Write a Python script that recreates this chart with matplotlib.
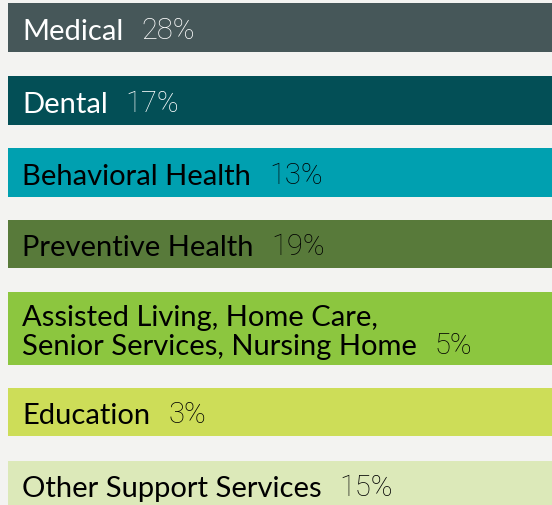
import matplotlib.pyplot as plt

categories = ["Medical", "Dental", "Behavioral Health", "Preventive Health",
              "Assisted Living, Home Care,\nSenior Services, Nursing Home",
              "Education", "Other Support Services"]
values = [28, 17, 13, 19, 5, 3, 15]

colors = ["#465759", "#034f56", "#00a0b0", "#587a3a", "#8cc63f", "#cddd58", "#dce9b9"]
text_colors = ["white", "white", "black", "black", "black", "black", "black"]

# layout in pixel units (top edge, height)
tops = [4, 77, 149, 221, 293, 389, 462]
heights = [49, 49, 49, 48, 73, 48, 49]

fig = plt.figure(figsize=(5.52, 5.06), dpi=100)
fig.patch.set_facecolor("#f3f3f1")
ax = fig.add_axes([0, 0, 1, 1])
ax.set_facecolor("#f3f3f1")
ax.set_xlim(0, 552)
ax.set_ylim(506, 0)
ax.axis("off")

for cat, val, c, tc, top, h in zip(categories, values, colors, text_colors, tops, heights):
    ax.barh(top + h / 2, 552 - 8, height=h, left=8, color=c)
    label = ax.text(22, top + h / 2 + 3, cat, family="Lato", fontsize=21,
                    color=tc, va="center", ha="left", linespacing=1.15)
    ax.annotate(f"{val}%", xy=(1, 0), xycoords=label, xytext=(13, 0),
                textcoords="offset points", family="Roboto", fontweight="light",
                fontsize=21, color=tc, va="bottom", ha="left")

fig.savefig("out.png", dpi=100, facecolor=fig.get_facecolor())
